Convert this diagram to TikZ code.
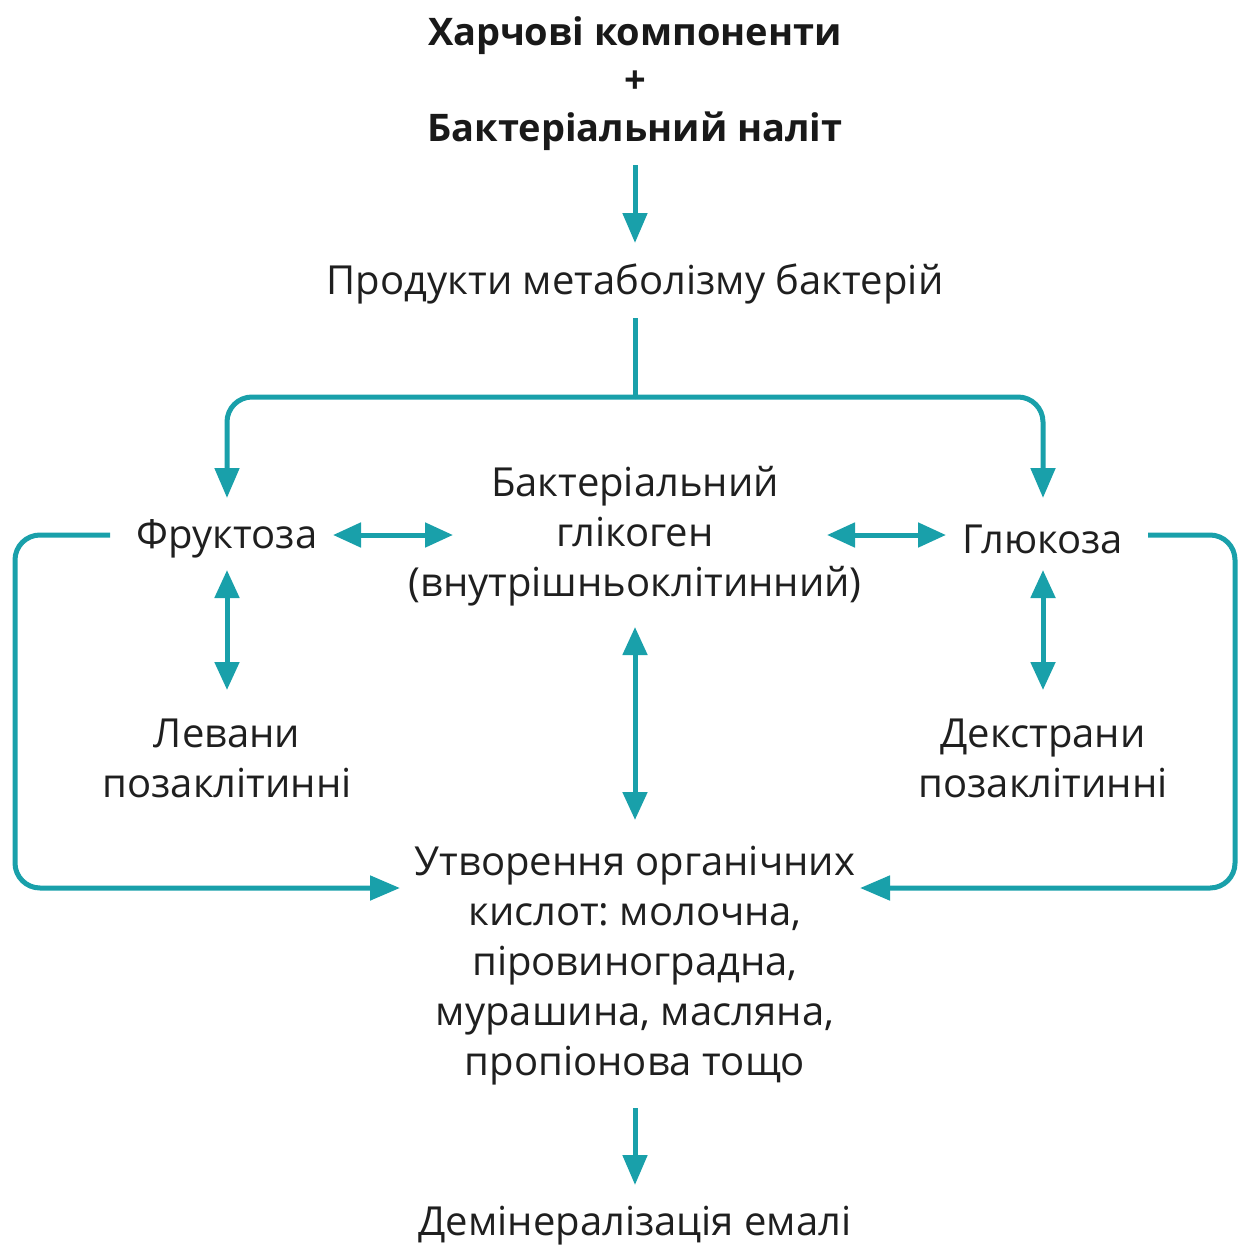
\documentclass[tikz,border=0pt]{standalone}
\usepackage{fontspec}
\setmainfont{Open Sans}
\usetikzlibrary{arrows.meta,calc}
\definecolor{teal1}{RGB}{25,160,170}
\frenchspacing
\begin{document}
\begin{tikzpicture}[x=1pt,y=-1pt,
 txt/.style={inner sep=0pt, align=center, text=black!88, font=\fontsize{40}{50}\selectfont},
 btxt/.style={inner sep=0pt, align=center, text=black!90, font=\fontsize{38}{48}\selectfont\bfseries},
 ln/.style={draw=teal1, line width=5pt},
 arr/.style={ln, -{Triangle[length=30pt,width=24pt]}},
 darr/.style={ln, {Triangle[length=28pt,width=24pt]}-{Triangle[length=28pt,width=24pt]}},
 rc/.style={rounded corners=25pt}]
\useasboundingbox (0,0) rectangle (1239,1247);
\node[btxt] (title) at (635,84) {Харчові компоненти\\+\\Бактеріальний наліт};
\node[txt] (prod) at (635,284) {Продукти метаболізму бактерій};
\node[txt] (fru) at (227,539) {Фруктоза};
\node[txt] (glu) at (1043,539) {Глюкоза};
\node[txt] (gly) at (635,536) {Бактеріальний\\глікоген\\(внутрішньоклітинний)};
\node[txt] (lev) at (227,758) {Левани\\позаклітинні};
\node[txt] (dex) at (1043,758) {Декстрани\\позаклітинні};
\node[txt] (acid) at (635,966) {Утворення органічних\\кислот: молочна,\\піровиноградна,\\мурашина, масляна,\\пропіонова тощо};
\node[txt] (dem) at (635,1226) {Демінералізація емалі};
% connectors
\draw[arr] ($(title.center)+(0,81)$) -- ($(prod.center)+(0,-41)$);
\coordinate (split) at ($(prod.center)+(0,113)$);
\draw[ln] ($(prod.center)+(0,34)$) -- (split);
\draw[arr, rc] (split) -| ($(fru.center)+(0,-41)$);
\draw[arr, rc] (split) -| ($(glu.center)+(0,-41)$);
\draw[darr] ($(fru.center)+(106,-4)$) -- ($(gly.center)+(-182,-1)$);
\draw[darr] ($(gly.center)+(192,-1)$) -- ($(glu.center)+(-97,-4)$);
\draw[darr] ($(fru.center)+(0,31)$) -- ($(lev.center)+(0,-68)$);
\draw[darr] ($(glu.center)+(0,31)$) -- ($(dex.center)+(0,-68)$);
\draw[darr] ($(gly.center)+(0,91)$) -- ($(acid.center)+(0,-146)$);
\draw[arr, rc] ($(fru.center)+(-117,-4)$) -- ++(-95,0) |- ($(acid.center)+(-235,-78)$);
\draw[arr, rc] ($(glu.center)+(105,-4)$) -- ++(87,0) |- ($(acid.center)+(225,-78)$);
\draw[arr] ($(acid.center)+(0,142)$) -- ($(dem.center)+(0,-41)$);
\end{tikzpicture}
\end{document}
